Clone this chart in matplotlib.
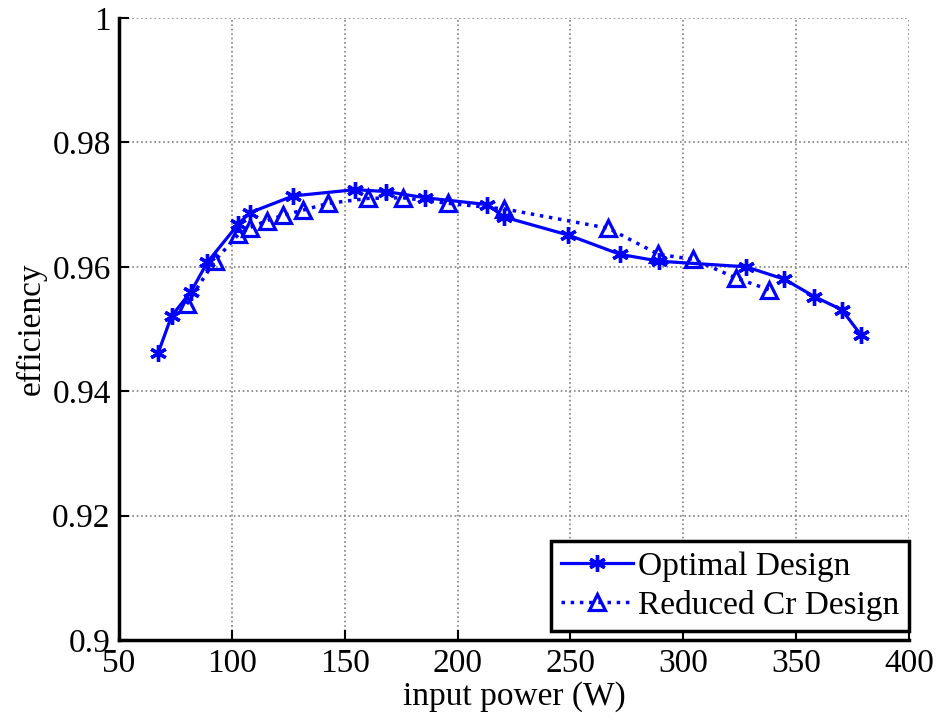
import numpy as np
import matplotlib
matplotlib.use('Agg')
import matplotlib.pyplot as plt

plt.rcParams['font.family'] = 'Liberation Serif'
plt.rcParams['font.size'] = 24

# optimal design
opt_x = [67.4, 73.3, 81.9, 89.1, 102.9, 108.0, 127.2, 154.6, 168.3, 185.6,
         213.2, 220.6, 249.1, 272.0, 289.4, 327.8, 344.8, 358.1, 370.2, 378.6]
opt_y = [0.9462, 0.9521, 0.9560, 0.9607, 0.9669, 0.9687, 0.9714, 0.9724, 0.9721, 0.9711,
         0.9700, 0.9680, 0.9651, 0.9620, 0.9609, 0.9600, 0.9580, 0.9552, 0.9531, 0.9491]

# reduced Cr design
red_x = [80.0, 92.5, 102.9, 108.0, 115.4, 122.8, 131.4, 142.7, 160.5, 175.7,
         195.9, 220.7, 266.8, 289.0, 304.5, 323.4, 338.0]
red_y = [0.9540, 0.9610, 0.9652, 0.9663, 0.9674, 0.9683, 0.9691, 0.9702, 0.9710, 0.9711,
         0.9702, 0.9693, 0.9662, 0.9620, 0.9612, 0.9582, 0.9563]

fig = plt.figure(figsize=(9.4, 7.25), dpi=100)
ax = fig.add_axes([119/940, 1-640/725, (909-119)/940, (640-18)/725])

ax.plot(opt_x, opt_y, color='blue', linestyle='-', linewidth=2.3,
        marker=(6, 2, 0), markersize=12, markeredgewidth=2.4, label='Optimal Design')
ax.plot(red_x, red_y, color='blue', linestyle=':', linewidth=2.5,
        marker='^', markersize=11, markerfacecolor='none', markeredgewidth=2.3,
        label='Reduced Cr Design')

ax.set_xlim(50, 400)
ax.set_ylim(0.9, 1.0)
ax.set_xticks(np.arange(50, 401, 50))
ax.set_yticks([0.9, 0.92, 0.94, 0.96, 0.98, 1.0])
ax.set_yticklabels(['0.9', '0.92', '0.94', '0.96', '0.98', '1'])
ax.grid(True, color='gray', linestyle=':', linewidth=1.2)
ax.tick_params(direction='in', length=7, width=1.5, pad=6)

for s in ['top', 'right']:
    ax.spines[s].set_visible(False)
for s in ['left', 'bottom']:
    ax.spines[s].set_linewidth(2.5)

ax.set_xlabel('input power (W)', labelpad=2)
ax.set_ylabel('efficiency', labelpad=4)

leg = ax.legend(loc='lower left', bbox_to_anchor=(551/940, 1-631/725),
                bbox_transform=fig.transFigure, fancybox=False, framealpha=1,
                edgecolor='black', handlelength=2.15, handletextpad=0.15,
                labelspacing=0.25, borderpad=0.3, borderaxespad=0)
leg.get_frame().set_linewidth(2.5)

fig.savefig('out.png', dpi=100)
